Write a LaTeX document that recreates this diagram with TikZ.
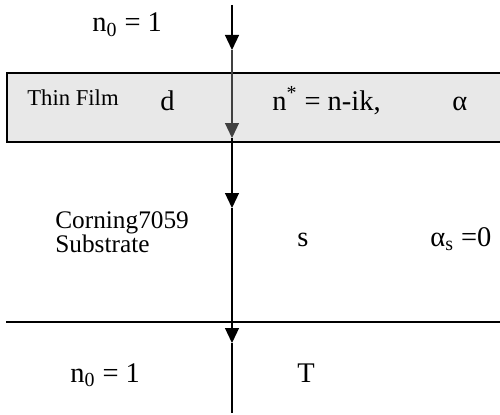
\documentclass[tikz,border=0pt]{standalone}
\usepackage{fontspec}
\setmainfont{Liberation Serif}
\usetikzlibrary{arrows.meta}
\begin{document}
\begin{tikzpicture}[
    x=0.02cm, y=-0.02cm,
    font=\fontsize{16.2}{19}\selectfont,
    txt/.style={anchor=base west, inner sep=0pt},
    ray/.style={line width=0.7pt, -{Triangle[width=0.28cm, length=0.3cm]}},
    layer/.style={line width=1pt}
]
\clip (0,0) rectangle (500,415);

\draw[layer, fill=black!9] (7,73) rectangle (520,142);
\draw[layer] (6,322) -- (520,322);

\coordinate (top) at (232,5);
\coordinate (tip1) at (232,50);
\coordinate (tip2) at (232,138);
\coordinate (tip3) at (232,208);
\coordinate (tip4) at (232,343);
\coordinate (bot) at (232,413);

\draw[ray] (top) -- (tip1);
\draw[ray, black!75] (tip1) -- (tip2);
\draw[ray] (tip2) -- (tip3);
\draw[ray] (tip3) -- (tip4);
\draw[line width=0.7pt] (tip4) -- (bot);

\node[txt] (air1) at (92,32) {n\textsubscript{0} = 1};

\node[txt, font=\fontsize{12.9}{15}\selectfont] (film) at (27,106) {Thin Film};
\node[txt] (thick) at (160,111) {d};
\node[txt] (index) at (272,111) {n\textsuperscript{*} = n-ik,};
\node[txt] (absorb) at (452,111) {α};

\node[txt, font=\fontsize{14.4}{17}\selectfont] (corning) at (55,229) {Corning7059};
\node[txt, font=\fontsize{14.4}{17}\selectfont] (substr) at (55,253) {Substrate};
\node[txt] (sub) at (297,246) {s};
\node[txt] (absorbs) at (430,246) {α\textsubscript{s} =0};

\node[txt] (air2) at (70,382) {n\textsubscript{0} = 1};
\node[txt] (trans) at (297,382) {T};

\end{tikzpicture}
\end{document}
